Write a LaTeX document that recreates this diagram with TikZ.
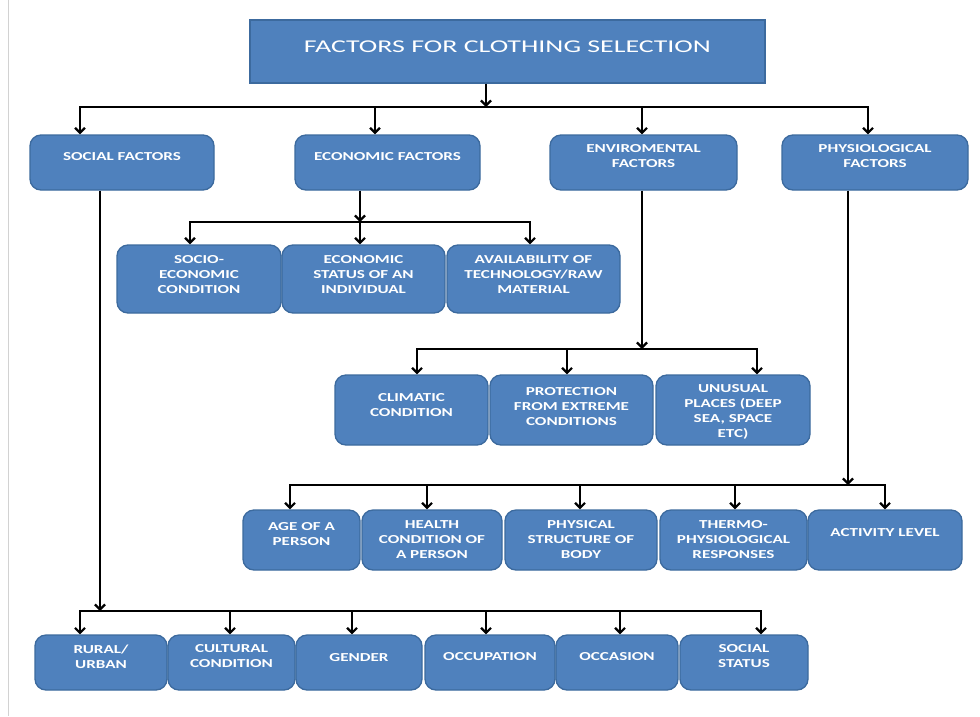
\documentclass[tikz,border=0pt]{standalone}
\usepackage{fontspec}
\setmainfont{Carlito}
\newfontfamily\boxfont[FakeStretch=1.4]{Carlito}
\newfontfamily\titlefont[FakeStretch=1.55]{Carlito}
\usetikzlibrary{arrows.meta}
\definecolor{boxblue}{HTML}{4F81BD}
\definecolor{boxedge}{HTML}{3C6A9E}
\newcommand\boxtxt[2][4.5pt]{\raisebox{#1}[\height][\depth]{\begin{tabular}{@{}c@{}}#2\end{tabular}}}
\begin{document}
\begin{tikzpicture}[x=1pt,y=-1pt,
  fbox/.style={draw=boxedge, line width=1.3pt, fill=boxblue, rounded corners=11pt, inner sep=0pt,
    text=white, font=\boxfont\bfseries\fontsize{12.2}{15}\selectfont},
  topbox/.style={draw=boxedge, line width=1.3pt, fill=boxblue, inner sep=0pt,
    text=white, font=\titlefont\fontsize{18}{22}\selectfont},
  conn/.style={line width=2.2pt, line join=miter},
  arr/.style={conn, -{Straight Barb[length=5pt,width=10pt]}},
  both/.style={conn, {Straight Barb[length=5pt,width=10pt]}-{Straight Barb[length=5pt,width=10pt]}}]
\useasboundingbox (0,0) rectangle (980,716);
\fill[white] (0,0) rectangle (980,716);
\draw[gray!35, line width=1pt] (8,0) -- (8,716);

% title
\node[topbox, minimum width=515pt, minimum height=63pt] (title) at (507.5,51.5)
  {\raisebox{4.5pt}[\height][\depth]{FACTORS FOR CLOTHING SELECTION}};

% row 1
\node[fbox, minimum width=184pt, minimum height=55pt] (soc) at (122,162.5) {\boxtxt[5.5pt]{SOCIAL FACTORS}};
\node[fbox, minimum width=185pt, minimum height=55pt] (eco) at (387.5,162.5) {\boxtxt[5.5pt]{ECONOMIC FACTORS}};
\node[fbox, minimum width=187pt, minimum height=55pt] (env) at (643.5,162.5) {\boxtxt[5.5pt]{ENVIROMENTAL\\FACTORS}};
\node[fbox, minimum width=186pt, minimum height=55pt] (phy) at (875,162.5) {\boxtxt[5.5pt]{PHYSIOLOGICAL\\FACTORS}};

% economic children
\node[fbox, minimum width=164pt, minimum height=68pt] (sec) at (199,279) {\boxtxt[4pt]{SOCIO-\\ECONOMIC\\CONDITION}};
\node[fbox, minimum width=163pt, minimum height=68pt] (est) at (363.5,279) {\boxtxt[4pt]{ECONOMIC\\STATUS OF AN\\INDIVIDUAL}};
\node[fbox, minimum width=173pt, minimum height=68pt] (avl) at (533.5,279) {\boxtxt[4pt]{AVAILABILITY OF\\TECHNOLOGY/RAW\\MATERIAL}};

% environmental children
\node[fbox, minimum width=153pt, minimum height=70pt] (cli) at (411.5,410) {\boxtxt[4.5pt]{CLIMATIC\\CONDITION}};
\node[fbox, minimum width=163pt, minimum height=70pt] (pro) at (571.5,410) {\boxtxt[3pt]{PROTECTION\\FROM EXTREME\\CONDITIONS}};
\node[fbox, minimum width=154pt, minimum height=70pt] (unu) at (733,410) {\boxtxt[-2pt]{UNUSUAL\\PLACES (DEEP\\SEA, SPACE\\ETC)}};

% physiological children
\node[fbox, minimum width=117pt, minimum height=60pt] (age) at (301.5,540) {\boxtxt[5pt]{AGE OF A\\PERSON}};
\node[fbox, minimum width=140pt, minimum height=60pt] (hea) at (432,540) {\boxtxt[0pt]{HEALTH\\CONDITION OF\\A PERSON}};
\node[fbox, minimum width=152pt, minimum height=60pt] (phs) at (581,540) {\boxtxt[0pt]{PHYSICAL\\STRUCTURE OF\\BODY}};
\node[fbox, minimum width=147pt, minimum height=60pt] (thr) at (733.5,540) {\boxtxt[0pt]{THERMO-\\PHYSIOLOGICAL\\RESPONSES}};
\node[fbox, minimum width=154pt, minimum height=60pt] (act) at (885,540) {\boxtxt[7pt]{ACTIVITY LEVEL}};

% social children
\node[fbox, minimum width=132pt, minimum height=55pt] (rur) at (101,662.5) {\boxtxt[5pt]{RURAL/\\URBAN}};
\node[fbox, minimum width=127pt, minimum height=55pt] (cul) at (231.5,662.5) {\boxtxt[6pt]{CULTURAL\\CONDITION}};
\node[fbox, minimum width=126pt, minimum height=55pt] (gen) at (359,662.5) {\boxtxt[4.5pt]{GENDER}};
\node[fbox, minimum width=130pt, minimum height=55pt] (occ) at (490,662.5) {\boxtxt[5.5pt]{OCCUPATION}};
\node[fbox, minimum width=122pt, minimum height=55pt] (ocs) at (617,662.5) {\boxtxt[5.5pt]{OCCASION}};
\node[fbox, minimum width=128pt, minimum height=55pt] (sst) at (744,662.5) {\boxtxt[6pt]{SOCIAL\\STATUS}};

% ---- connectors: title -> row 1
\coordinate (t0) at (486,107);
\coordinate (tL) at (80,107);
\coordinate (tR) at (868,107);
\coordinate (tE) at (375,107);
\coordinate (tV) at (642,107);
\draw[arr] (title.south -| t0) -- (t0);
\draw[both] (soc.north -| tL) -- (tL) -- (tR) -- (phy.north -| tR);
\draw[arr] (tE) -- (tE |- eco.north);
\draw[arr] (tV) -- (tV |- env.north);

% economic
\coordinate (e0) at (360,222);
\coordinate (eL) at (190,222);
\coordinate (eR) at (530,222);
\draw[arr] (eco.south -| e0) -- (e0);
\draw[both] (sec.north -| eL) -- (eL) -- (eR) -- (avl.north -| eR);
\draw[arr] (e0) -- (e0 |- est.north);

% environmental
\coordinate (v0) at (642,349);
\coordinate (vL) at (417,349);
\coordinate (vM) at (567,349);
\coordinate (vR) at (757,349);
\draw[arr] (env.south -| v0) -- (v0);
\draw[both] (cli.north -| vL) -- (vL) -- (vR) -- (unu.north -| vR);
\draw[arr] (vM) -- (vM |- pro.north);

% physiological
\coordinate (p0) at (848,485);
\coordinate (pL) at (290,485);
\coordinate (p2) at (427,485);
\coordinate (p3) at (580,485);
\coordinate (p4) at (735,485);
\coordinate (pR) at (885,485);
\draw[arr] (phy.south -| p0) -- (p0);
\draw[both] (age.north -| pL) -- (pL) -- (pR) -- (act.north -| pR);
\draw[arr] (p2) -- (p2 |- hea.north);
\draw[arr] (p3) -- (p3 |- phs.north);
\draw[arr] (p4) -- (p4 |- thr.north);

% social
\coordinate (s0) at (100,611);
\coordinate (sL) at (80,611);
\coordinate (s2) at (230,611);
\coordinate (s3) at (352,611);
\coordinate (s4) at (486,611);
\coordinate (s5) at (620,611);
\coordinate (sR) at (761,611);
\draw[arr] (soc.south -| s0) -- (s0);
\draw[both] (rur.north -| sL) -- (sL) -- (sR) -- (sst.north -| sR);
\draw[arr] (s2) -- (s2 |- cul.north);
\draw[arr] (s3) -- (s3 |- gen.north);
\draw[arr] (s4) -- (s4 |- occ.north);
\draw[arr] (s5) -- (s5 |- ocs.north);
\end{tikzpicture}
\end{document}
